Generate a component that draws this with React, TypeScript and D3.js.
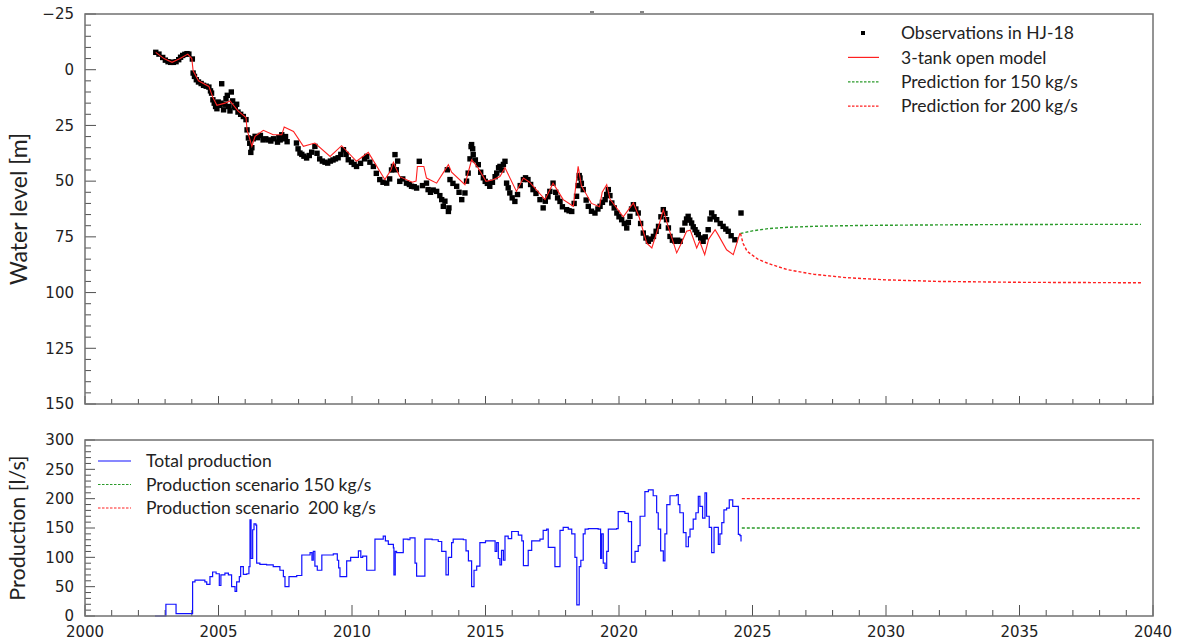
import React from "react";
import * as d3 from "d3";

// observed water level in HJ-18 [year, m below reference]
const observations: [number, number][] = [
  [2002.65, -7.8], [2002.77, -7.0], [2002.91, -5.5], [2003.01, -4.3], [2003.11, -3.6], [2003.21, -3.3],
  [2003.31, -3.3], [2003.41, -3.6], [2003.51, -4.5], [2003.58, -5.6], [2003.66, -6.4], [2003.74, -6.9],
  [2003.82, -7.2], [2003.89, -7.0], [2004.02, -4.8], [2004.05, 1.5], [2004.1, 3.0], [2004.17, 4.5],
  [2004.25, 5.5], [2004.35, 6.2], [2004.44, 7.0], [2004.54, 7.4], [2004.64, 7.8], [2004.7, 9.5],
  [2004.74, 10.5], [2004.79, 13.5], [2004.84, 15.0], [2004.89, 16.5], [2004.94, 17.5], [2004.99, 14.5],
  [2005.04, 16.0], [2005.09, 15.0], [2005.12, 6.3], [2005.19, 18.0], [2005.24, 15.5], [2005.28, 13.0],
  [2005.33, 11.5], [2005.38, 16.5], [2005.43, 18.5], [2005.48, 10.0], [2005.53, 14.0], [2005.58, 16.5],
  [2005.63, 17.0], [2005.68, 15.5], [2005.73, 19.0], [2005.83, 20.0], [2005.93, 21.0], [2006.03, 22.4],
  [2006.07, 27.0], [2006.12, 30.6], [2006.17, 33.0], [2006.21, 37.1], [2006.25, 35.0], [2006.3, 31.0],
  [2006.37, 29.9], [2006.47, 30.5], [2006.57, 29.5], [2006.67, 31.5], [2006.77, 31.0], [2006.87, 31.5],
  [2006.96, 32.0], [2007.06, 31.0], [2007.21, 32.5], [2007.26, 30.5], [2007.31, 31.5], [2007.37, 29.2],
  [2007.43, 31.0], [2007.51, 30.0], [2007.57, 32.3], [2007.92, 32.9], [2007.98, 35.5], [2008.05, 37.4],
  [2008.12, 38.0], [2008.2, 38.8], [2008.3, 39.6], [2008.4, 38.5], [2008.49, 37.0], [2008.61, 34.4],
  [2008.69, 37.5], [2008.79, 40.0], [2008.89, 41.0], [2008.99, 41.5], [2009.09, 41.9], [2009.19, 41.0],
  [2009.29, 40.5], [2009.38, 40.0], [2009.48, 39.5], [2009.58, 38.0], [2009.68, 35.9], [2009.78, 38.0],
  [2009.86, 40.4], [2009.98, 41.5], [2010.08, 42.5], [2010.17, 43.4], [2010.32, 42.0], [2010.47, 40.0],
  [2010.55, 38.9], [2010.67, 41.5], [2010.8, 43.4], [2010.91, 46.5], [2011.04, 49.3], [2011.16, 50.5],
  [2011.3, 50.9], [2011.41, 49.0], [2011.48, 45.0], [2011.55, 43.4], [2011.61, 38.1], [2011.66, 44.9],
  [2011.71, 41.0], [2011.79, 50.1], [2011.9, 49.0], [2012.04, 50.9], [2012.15, 51.5], [2012.23, 52.3],
  [2012.33, 52.5], [2012.42, 53.1], [2012.52, 41.1], [2012.64, 52.0], [2012.79, 50.9], [2012.85, 53.8],
  [2012.94, 55.0], [2013.04, 54.0], [2013.17, 54.6], [2013.29, 56.5], [2013.36, 58.3], [2013.42, 61.3],
  [2013.48, 59.0], [2013.57, 44.9], [2013.61, 63.6], [2013.63, 62.0], [2013.67, 49.3], [2013.78, 51.0],
  [2013.92, 52.3], [2014.01, 55.0], [2014.11, 58.3], [2014.23, 55.3], [2014.29, 50.0], [2014.35, 46.4],
  [2014.42, 40.0], [2014.46, 34.5], [2014.48, 33.6], [2014.52, 35.5], [2014.54, 38.1], [2014.62, 40.5],
  [2014.73, 42.6], [2014.82, 46.0], [2014.92, 48.5], [2014.99, 50.1], [2015.07, 51.0], [2015.16, 52.3],
  [2015.26, 50.5], [2015.36, 48.0], [2015.42, 46.4], [2015.49, 44.0], [2015.54, 43.4], [2015.61, 45.0],
  [2015.67, 42.5], [2015.73, 41.1], [2015.79, 50.9], [2015.85, 53.0], [2015.91, 55.3], [2016.0, 57.5],
  [2016.1, 59.1], [2016.2, 56.0], [2016.3, 52.0], [2016.42, 49.3], [2016.5, 48.5], [2016.59, 49.3],
  [2016.69, 51.5], [2016.78, 53.8], [2016.89, 55.5], [2017.04, 58.3], [2017.16, 62.0], [2017.24, 59.0],
  [2017.34, 57.0], [2017.41, 54.6], [2017.53, 50.9], [2017.63, 55.0], [2017.7, 57.5], [2017.79, 59.1],
  [2017.88, 61.5], [2018.04, 62.8], [2018.13, 63.3], [2018.23, 63.6], [2018.32, 60.0], [2018.41, 56.8],
  [2018.47, 52.0], [2018.51, 47.5], [2018.54, 48.6], [2018.59, 51.0], [2018.66, 53.8], [2018.77, 58.5],
  [2018.85, 61.3], [2018.97, 63.5], [2019.1, 64.3], [2019.21, 62.5], [2019.29, 61.3], [2019.38, 59.5],
  [2019.48, 58.3], [2019.54, 56.0], [2019.6, 53.8], [2019.66, 56.5], [2019.73, 59.8], [2019.82, 62.0],
  [2019.92, 64.3], [2020.0, 66.0], [2020.1, 67.3], [2020.2, 69.0], [2020.29, 71.0], [2020.35, 68.5],
  [2020.41, 65.8], [2020.47, 62.5], [2020.54, 60.6], [2020.63, 62.5], [2020.72, 64.3], [2020.81, 69.0],
  [2020.91, 73.3], [2021.01, 75.5], [2021.1, 77.0], [2021.19, 76.0], [2021.29, 74.8], [2021.39, 72.5],
  [2021.48, 70.3], [2021.57, 66.0], [2021.66, 62.8], [2021.72, 64.5], [2021.78, 67.3], [2021.85, 71.0],
  [2021.91, 74.8], [2022.0, 76.5], [2022.1, 77.0], [2022.2, 76.5], [2022.29, 77.0], [2022.37, 72.0],
  [2022.47, 68.8], [2022.53, 67.0], [2022.59, 65.8], [2022.65, 67.5], [2022.72, 68.8], [2022.78, 70.5],
  [2022.85, 71.8], [2022.91, 73.0], [2022.97, 74.0], [2023.06, 75.5], [2023.15, 77.0], [2023.23, 75.0],
  [2023.34, 71.8], [2023.41, 67.0], [2023.47, 64.3], [2023.56, 66.0], [2023.66, 67.3], [2023.79, 69.0],
  [2023.9, 70.3], [2024.0, 71.5], [2024.09, 72.5], [2024.2, 74.5], [2024.34, 76.3], [2024.57, 64.3],
];

// 3-tank open model
const model: [number, number][] = [
  [2002.65, -7.8], [2002.96, -5.0], [2003.26, -3.3], [2003.56, -5.0], [2003.85, -7.0], [2004.0, -5.0],
  [2004.05, 0.5], [2004.25, 5.0], [2004.64, 7.5], [2004.79, 12.5], [2004.94, 16.0], [2005.24, 15.0],
  [2005.43, 14.0], [2005.73, 18.5], [2006.03, 21.5], [2006.07, 27.0], [2006.17, 31.0], [2006.25, 34.4],
  [2006.37, 29.9], [2006.68, 27.2], [2007.05, 29.2], [2007.37, 29.2], [2007.46, 25.7], [2007.81, 27.7],
  [2008.18, 34.4], [2008.61, 32.9], [2009.18, 38.9], [2009.61, 34.1], [2010.17, 41.1], [2010.61, 37.1],
  [2011.23, 49.3], [2011.46, 45.0], [2011.55, 41.5], [2011.79, 48.0], [2012.25, 50.5], [2012.4, 50.0],
  [2012.45, 43.4], [2012.69, 43.4], [2012.79, 48.6], [2013.17, 50.9], [2013.61, 42.6], [2013.73, 46.0],
  [2014.23, 51.6], [2014.48, 40.4], [2014.72, 44.0], [2015.02, 50.1], [2015.26, 49.5], [2015.54, 47.9],
  [2015.73, 44.0], [2016.16, 54.6], [2016.42, 48.6], [2016.65, 50.5], [2017.23, 58.3], [2017.53, 50.9],
  [2017.91, 58.3], [2018.29, 61.3], [2018.47, 43.4], [2018.59, 52.0], [2018.97, 60.0], [2019.27, 61.5],
  [2019.37, 55.0], [2019.54, 51.6], [2019.66, 58.0], [2020.16, 66.0], [2020.54, 59.8], [2020.75, 66.0],
  [2021.04, 77.8], [2021.23, 80.0], [2021.44, 72.0], [2021.66, 62.8], [2021.83, 70.0], [2022.16, 82.2],
  [2022.33, 78.0], [2022.53, 72.5], [2022.67, 72.0], [2022.91, 80.0], [2023.02, 77.0], [2023.21, 83.0],
  [2023.36, 76.0], [2023.6, 71.8], [2023.71, 74.0], [2024.03, 80.8], [2024.28, 83.0], [2024.53, 73.3],
];

const prediction150: [number, number][] = [
  [2024.55, 73.5], [2025.0, 72.3], [2025.6, 71.3], [2026.3, 70.7], [2027.5, 70.2], [2029, 69.9],
  [2031, 69.7], [2034, 69.5], [2037, 69.4], [2039.55, 69.4],
];

const prediction200: [number, number][] = [
  [2024.55, 73.5], [2024.65, 78], [2024.8, 81.5], [2025.2, 85], [2025.6, 87], [2026.3, 89.7],
  [2027.3, 91.8], [2028.5, 93.3], [2030, 94.3], [2032, 95.0], [2035, 95.4], [2039.55, 95.6],
];

// total production [l/s], value holds from each date to the next
const production: [number, number][] = [
  [2002.62, 0], [2003.03, 20], [2003.41, 4], [2004.03, 58], [2004.12, 61], [2004.49, 58], [2004.56, 54],
  [2004.68, 67], [2004.78, 75], [2004.91, 72], [2005.03, 52], [2005.09, 70], [2005.24, 73], [2005.37, 70],
  [2005.49, 50], [2005.62, 42], [2005.68, 58], [2005.78, 67], [2005.83, 84], [2005.93, 71], [2006.06, 72],
  [2006.14, 84], [2006.18, 164], [2006.22, 98], [2006.28, 147], [2006.33, 157], [2006.4, 155], [2006.43, 90],
  [2006.55, 88], [2006.8, 87], [2007.05, 84], [2007.3, 78], [2007.43, 67], [2007.49, 50], [2007.64, 67],
  [2007.93, 69], [2008.12, 104], [2008.43, 108], [2008.5, 95], [2008.55, 110], [2008.61, 85], [2008.7, 78],
  [2008.87, 104], [2009.3, 106], [2009.45, 95], [2009.5, 82], [2009.55, 67], [2009.74, 67], [2009.8, 94],
  [2009.95, 100], [2010.24, 111], [2010.33, 100], [2010.4, 102], [2010.55, 78], [2010.8, 78], [2010.86, 131],
  [2011.17, 136], [2011.25, 128], [2011.36, 122], [2011.55, 116], [2011.57, 70], [2011.62, 110],
  [2011.67, 108], [2011.92, 131], [2012.1, 130], [2012.17, 133], [2012.3, 133], [2012.36, 90], [2012.42, 68],
  [2012.67, 68], [2012.73, 131], [2013.0, 130], [2013.23, 127], [2013.36, 110], [2013.52, 70], [2013.61, 100],
  [2013.73, 125], [2013.79, 131], [2014.17, 130], [2014.27, 111], [2014.36, 94], [2014.48, 50], [2014.57, 78],
  [2014.67, 85], [2014.79, 125], [2015.0, 128], [2015.29, 128], [2015.36, 110], [2015.42, 125], [2015.48, 98],
  [2015.54, 87], [2015.6, 112], [2015.67, 95], [2015.73, 136], [2015.85, 132], [2015.98, 144], [2016.23, 138],
  [2016.36, 128], [2016.42, 86], [2016.54, 86], [2016.6, 112], [2016.73, 128], [2017.04, 131], [2017.16, 146],
  [2017.29, 148], [2017.35, 117], [2017.54, 117], [2017.6, 84], [2017.73, 84], [2017.79, 146], [2017.91, 151],
  [2018.1, 148], [2018.23, 140], [2018.35, 100], [2018.42, 19], [2018.51, 84], [2018.57, 95], [2018.66, 140],
  [2018.73, 148], [2018.85, 149], [2019.22, 148], [2019.31, 98], [2019.35, 140], [2019.41, 90], [2019.48, 81],
  [2019.54, 110], [2019.6, 148], [2019.91, 149], [2019.97, 178], [2020.22, 175], [2020.35, 161], [2020.47, 92],
  [2020.6, 110], [2020.72, 120], [2020.79, 170], [2020.97, 212], [2021.1, 215], [2021.28, 205], [2021.41, 176],
  [2021.47, 148], [2021.56, 111], [2021.66, 94], [2021.72, 140], [2021.79, 190], [2021.91, 205], [2022.16, 207],
  [2022.22, 190], [2022.28, 176], [2022.41, 142], [2022.51, 118], [2022.6, 135], [2022.66, 148], [2022.78, 165],
  [2022.88, 176], [2022.97, 204], [2023.03, 187], [2023.13, 167], [2023.22, 210], [2023.28, 170], [2023.38, 151],
  [2023.47, 108], [2023.56, 151], [2023.63, 151], [2023.72, 122], [2023.78, 140], [2023.85, 159], [2023.93, 181],
  [2024.03, 184], [2024.13, 198], [2024.22, 198], [2024.26, 187], [2024.43, 187], [2024.47, 139], [2024.53, 137],
  [2024.57, 127],
];

const scenarioYears = [2024.6, 2039.55];
const scenario150 = [150, 150];
const scenario200 = [200, 200];

const levelTicks = [-25, 0, 25, 50, 75, 100, 125, 150];
const productionTicks = [0, 50, 100, 150, 200, 250, 300];
const yearTicks = [2000, 2005, 2010, 2015, 2020, 2025, 2030, 2035, 2040];

const topLegend = ["Observations in HJ-18", "3-tank open model", "Prediction for 150 kg/s", "Prediction for 200 kg/s"];
const bottomLegend = ["Total production", "Production scenario 150 kg/s", "Production scenario  200 kg/s"];

const RED = "#ff2020";
const GREEN = "#2a9a2a";
const BLUE = "#1010ff";
const FRAME = "#707070";
const TICK = "#505050";
const LABEL_FONT = "Lato, 'Open Sans', sans-serif";
const TICK_FONT = "'DejaVu Sans', sans-serif";

export default function App() {
  const left = 85, right = 1153;
  const top = { y0: 14, y1: 404 };
  const bot = { y0: 440, y1: 616 };

  const x = d3.scaleLinear().domain([2000, 2040]).range([left, right]);
  const yLevel = d3.scaleLinear().domain([-25, 150]).range([top.y0, top.y1]);
  const yProd = d3.scaleLinear().domain([0, 300]).range([bot.y1, bot.y0]);

  const levelLine = d3.line<[number, number]>().x(d => x(d[0])).y(d => yLevel(d[1]));
  const prodLine = d3.line<[number, number]>().x(d => x(d[0])).y(d => yProd(d[1])).curve(d3.curveStepAfter);
  const scenLine = (vals: number[]) =>
    d3.line<number>().x((_, i) => x(scenarioYears[i])).y(v => yProd(v))(vals) || "";

  const years = d3.range(2000, 2041);
  const levelMinor = d3.range(-25, 151, 5);
  const prodMinor = d3.range(0, 301, 10);

  const frame = (y0: number, y1: number) => (
    <rect x={left} y={y0} width={right - left} height={y1 - y0} fill="none" stroke={FRAME} strokeWidth={1.5} />
  );

  return (
    <svg width={1179} height={644} style={{ position: "absolute", left: 0, top: 0, background: "#fff" }}>
      {/* small marks above the top panel */}
      <line x1={590} x2={594} y1={12} y2={12} stroke="#333" strokeWidth={1.2} />
      <line x1={640} x2={644} y1={12} y2={12} stroke="#333" strokeWidth={1.2} />

      {/* ---- water level panel ---- */}
      <g>
        {levelMinor.map(v => (
          <line key={"lm" + v} x1={left} x2={left + (v % 25 === 0 ? 11 : 6)} y1={yLevel(v)} y2={yLevel(v)} stroke={TICK} />
        ))}
        {years.map(yr => (
          <line key={"tx" + yr} x1={x(yr)} x2={x(yr)} y1={top.y1} y2={top.y1 - (yr % 5 === 0 ? 8 : 5)} stroke={TICK} />
        ))}
        {levelTicks.map(v => (
          <text key={"lt" + v} x={left - 11} y={yLevel(v)} dy="0.35em" textAnchor="end"
            fontFamily={TICK_FONT} fontSize={15} fill="#222">{d3.format("d")(v)}</text>
        ))}
        <text transform={`translate(27,${(top.y0 + top.y1) / 2}) rotate(-90)`} textAnchor="middle"
          fontFamily={LABEL_FONT} fontSize={23} fill="#222">Water level [m]</text>

        <path d={levelLine(prediction150) || ""} fill="none" stroke={GREEN} strokeWidth={1.4} strokeDasharray="3,2" />
        <path d={levelLine(prediction200) || ""} fill="none" stroke={RED} strokeWidth={1.4} strokeDasharray="3,2" />
        {observations.map((d, i) => (
          <rect key={"o" + i} x={x(d[0]) - 2.7} y={yLevel(d[1]) - 2.7} width={5.4} height={5.4} fill="#000" />
        ))}
        <path d={levelLine(model) || ""} fill="none" stroke={RED} strokeWidth={1.1} />
        {frame(top.y0, top.y1)}

        {topLegend.map((t, i) => {
          const yy = 33 + i * 24.4;
          return (
            <g key={"tl" + i}>
              {i === 0 && <rect x={861} y={yy - 2} width={4} height={4} fill="#000" />}
              {i > 0 && (
                <line x1={848} x2={879} y1={yy} y2={yy} stroke={i === 2 ? GREEN : RED} strokeWidth={1.2}
                  strokeDasharray={i > 1 ? "2.5,1.5" : undefined} />
              )}
              <text x={901} y={yy} dy="0.35em" fontFamily={LABEL_FONT} fontSize={17.5} fill="#222">{t}</text>
            </g>
          );
        })}
      </g>

      {/* ---- production panel ---- */}
      <g>
        {prodMinor.map(v => (
          <line key={"pm" + v} x1={left} x2={left + (v % 50 === 0 ? 10 : 6)} y1={yProd(v)} y2={yProd(v)} stroke={TICK} />
        ))}
        {years.map(yr => (
          <line key={"bx" + yr} x1={x(yr)} x2={x(yr)} y1={bot.y1} y2={bot.y1 - (yr % 5 === 0 ? 11 : 6)} stroke={TICK} />
        ))}
        {productionTicks.map(v => (
          <text key={"pt" + v} x={left - 11} y={yProd(v)} dy="0.35em" textAnchor="end"
            fontFamily={TICK_FONT} fontSize={15} fill="#222">{v}</text>
        ))}
        {yearTicks.map(yr => (
          <text key={"yt" + yr} x={x(yr)} y={632} dy="0.35em" textAnchor="middle"
            fontFamily={TICK_FONT} fontSize={15} fill="#222">{yr}</text>
        ))}
        <text transform={`translate(25,${(bot.y0 + bot.y1) / 2}) rotate(-90)`} textAnchor="middle"
          fontFamily={LABEL_FONT} fontSize={21.5} fill="#222">Production [l/s]</text>

        <path d={prodLine(production) || ""} fill="none" stroke={BLUE} strokeWidth={1.2} />
        <path d={scenLine(scenario200)} fill="none" stroke={RED} strokeWidth={1.4} strokeDasharray="3,2" />
        <path d={scenLine(scenario150)} fill="none" stroke={GREEN} strokeWidth={1.4} strokeDasharray="3,2" />
        {frame(bot.y0, bot.y1)}

        {bottomLegend.map((t, i) => {
          const yy = 461 + i * 23.5;
          const c = i === 0 ? BLUE : i === 1 ? GREEN : RED;
          return (
            <g key={"bl" + i}>
              <line x1={98} x2={131} y1={yy} y2={yy} stroke={c} strokeWidth={1.2}
                strokeDasharray={i > 0 ? "2.5,1.5" : undefined} />
              <text x={146} y={yy} dy="0.35em" fontFamily={LABEL_FONT} fontSize={17.5} fill="#222"
                style={{ whiteSpace: "pre" }}>{t}</text>
            </g>
          );
        })}
      </g>
    </svg>
  );
}
